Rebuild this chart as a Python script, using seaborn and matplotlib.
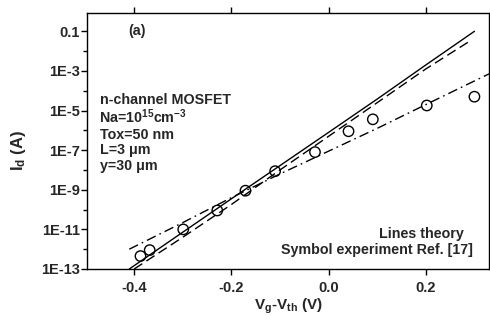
import matplotlib
matplotlib.use("Agg")
import matplotlib.pyplot as plt
import matplotlib.ticker as mticker
import seaborn as sns
import pandas as pd

# ---- data ----
solid_x = [-0.41, -0.30, -0.20, -0.10, 0.00, 0.10, 0.20, 0.30]
solid_y = [1.0e-13, 7.2e-12, 3.5e-10, 1.66e-8, 7.9e-7, 3.8e-5, 2.0e-3, 0.1]

dashed_x = [-0.40, -0.30, -0.20, -0.10, 0.00, 0.10, 0.20, 0.293]
dashed_y = [1.0e-13, 4.0e-12, 1.8e-10, 1.0e-8, 5.0e-7, 2.5e-5, 1.26e-3, 3.5e-2]

dashdot_x = [-0.41, -0.30, -0.20, -0.10, 0.00, 0.10, 0.20, 0.33]
dashdot_y = [1.0e-12, 2.2e-11, 4.0e-10, 6.3e-9, 8.9e-8, 1.26e-6, 2.0e-5, 7.1e-4]

exp_x = [-0.387, -0.368, -0.299, -0.229, -0.171, -0.110, -0.028, 0.041, 0.091, 0.202, 0.300]
exp_y = [4.5e-13, 9.0e-13, 1.0e-11, 9.0e-11, 9.0e-10, 8.7e-9, 8.0e-8, 9.0e-7, 3.6e-6, 1.8e-5, 5.0e-5]

x_ticks = [-0.4, -0.2, 0.0, 0.2]
x_ticklabels = ["-0.4", "-0.2", "0.0", "0.2"]
y_major = [1e-13, 1e-11, 1e-9, 1e-7, 1e-5, 1e-3, 1e-1]
y_ticklabels = ["1E-13", "1E-11", "1E-9", "1E-7", "1E-5", "1E-3", "0.1"]
y_minor = [1e-12, 1e-10, 1e-8, 1e-6, 1e-4, 1e-2]

# ---- style ----
sns.set_theme(style="ticks")
plt.rcParams["font.family"] = ["Liberation Sans", "DejaVu Sans"]
plt.rcParams["font.weight"] = "bold"
plt.rcParams["mathtext.fontset"] = "custom"
plt.rcParams["mathtext.rm"] = "Liberation Sans:bold"
plt.rcParams["mathtext.it"] = "Liberation Sans:bold"
plt.rcParams["mathtext.bf"] = "Liberation Sans:bold"
plt.rcParams["mathtext.default"] = "rm"

W, H = 490, 322
fig = plt.figure(figsize=(W / 100, H / 100), dpi=100)
L, R, T, B = 87, 489, 12.7, 269
ax = fig.add_axes([L / W, 1 - B / H, (R - L) / W, (B - T) / H])

df_s = pd.DataFrame({"x": solid_x, "y": solid_y})
df_d = pd.DataFrame({"x": dashed_x, "y": dashed_y})
df_dd = pd.DataFrame({"x": dashdot_x, "y": dashdot_y})
df_e = pd.DataFrame({"x": exp_x, "y": exp_y})

sns.lineplot(data=df_s, x="x", y="y", ax=ax, color="black", lw=1.0, linestyle="-", sort=False)
sns.lineplot(data=df_d, x="x", y="y", ax=ax, color="black", lw=1.0, sort=False).lines[-1].set_dashes([7, 3.5])
ln = sns.lineplot(data=df_dd, x="x", y="y", ax=ax, color="black", lw=1.0, sort=False).lines[-1]
ln.set_dashes([7, 3, 1.2, 3])
sc = sns.scatterplot(data=df_e, x="x", y="y", ax=ax, marker="o", s=56, color="black", zorder=5)
coll = sc.collections[-1]
coll.set_facecolor("none")
coll.set_edgecolor("black")
coll.set_linewidth(1.0)

ax.set_yscale("log")
ax.set_xlim(-0.497, 0.33)
ax.set_ylim(1e-13, 10 ** -0.06)

ax.xaxis.set_major_locator(mticker.FixedLocator(x_ticks))
ax.set_xticklabels(x_ticklabels)
ax.xaxis.set_minor_locator(mticker.NullLocator())
ax.yaxis.set_major_locator(mticker.FixedLocator(y_major))
ax.yaxis.set_major_formatter(mticker.FixedFormatter(y_ticklabels))
ax.yaxis.set_minor_locator(mticker.FixedLocator(y_minor))
ax.yaxis.set_minor_formatter(mticker.NullFormatter())

ax.tick_params(which="both", direction="out", top=True, right=True, color="black", width=1.0)
ax.tick_params(axis="y", which="major", length=4.2, pad=1, labelsize=10.5)
ax.tick_params(axis="y", which="minor", length=3.0)
ax.tick_params(axis="x", which="major", length=4.6, pad=4, labelsize=10.5)
for lab in ax.get_xticklabels() + ax.get_yticklabels():
    lab.set_fontweight("bold")
for sp in ax.spines.values():
    sp.set_visible(True)
    sp.set_linewidth(1.0)
    sp.set_color("black")

ax.set_xlabel("")
ax.set_ylabel("")
fig.text(288 / W, 1 - 306 / H, r"$V_g$-$V_{th}$ (V)", ha="center", va="center",
         fontsize=11, fontweight="bold")
fig.text(19 / W, 1 - 150 / H, r"$I_d$ (A)", ha="center", va="center", rotation=90,
         fontsize=12, fontweight="bold")

def ptext(x, y, s, ha="left", size=10.3):
    fig.text(x / W, 1 - y / H, s, ha=ha, va="baseline", fontsize=size, fontweight="bold")

ptext(128, 35, "(a)")
ptext(100, 103.7, "n-channel MOSFET")
ptext(99, 122.7, r"Na=10$^{15}$cm$^{-3}$")
ptext(100, 139.3, "Tox=50 nm")
ptext(100, 154.3, "L=3 μm")
ptext(100, 170, "y=30 μm")
ptext(464, 237.7, "Lines theory", ha="right")
ptext(473, 254, "Symbol experiment Ref. [17]", ha="right")

fig.savefig("out.png", dpi=100)
